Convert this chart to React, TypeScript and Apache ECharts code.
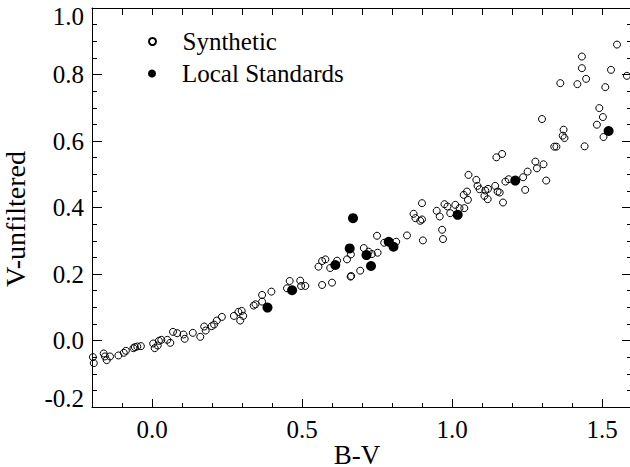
import React, { useEffect, useRef } from "react";
import * as echarts from "echarts";

// B-V colour against V-unfiltered offset
const synthetic: [number, number][] = [
  [-0.197, -0.05], [-0.194, -0.068], [-0.161, -0.039], [-0.157, -0.048], [-0.151, -0.059],
  [-0.14, -0.048], [-0.112, -0.045], [-0.094, -0.037], [-0.087, -0.031], [-0.062, -0.023],
  [-0.057, -0.02], [-0.049, -0.018], [-0.037, -0.017], [0.004, -0.009], [0.009, -0.023],
  [0.019, -0.015], [0.023, -0.001], [0.031, 0.002], [0.051, 0.002], [0.061, -0.007],
  [0.07, 0.026], [0.084, 0.022], [0.105, 0.018], [0.109, 0.005], [0.136, 0.023],
  [0.161, 0.011], [0.174, 0.042], [0.179, 0.03], [0.199, 0.043], [0.207, 0.048],
  [0.216, 0.06], [0.233, 0.071], [0.273, 0.074], [0.288, 0.086], [0.294, 0.06],
  [0.299, 0.089], [0.304, 0.074], [0.339, 0.105], [0.345, 0.109], [0.367, 0.117],
  [0.367, 0.137], [0.398, 0.147], [0.45, 0.157], [0.459, 0.179], [0.494, 0.18],
  [0.497, 0.164], [0.511, 0.164], [0.567, 0.167], [0.6, 0.174], [0.555, 0.222],
  [0.567, 0.239], [0.578, 0.244], [0.594, 0.218], [0.617, 0.24], [0.65, 0.244],
  [0.663, 0.259], [0.662, 0.192], [0.664, 0.194], [0.694, 0.21], [0.706, 0.278],
  [0.722, 0.267], [0.733, 0.26], [0.752, 0.264], [0.75, 0.315], [0.774, 0.294],
  [0.814, 0.297], [0.85, 0.316], [0.872, 0.381], [0.878, 0.368], [0.894, 0.36],
  [0.9, 0.364], [0.9, 0.413], [0.903, 0.301], [0.949, 0.39], [0.959, 0.373],
  [0.967, 0.333], [0.97, 0.305], [0.975, 0.41], [0.985, 0.403], [0.994, 0.383],
  [1.011, 0.408], [1.025, 0.398], [1.039, 0.438], [1.05, 0.448], [1.041, 0.398],
  [1.053, 0.423], [1.055, 0.498], [1.081, 0.483], [1.085, 0.465], [1.092, 0.455],
  [1.108, 0.435], [1.119, 0.425], [1.111, 0.451], [1.12, 0.456], [1.148, 0.551],
  [1.167, 0.561], [1.144, 0.465], [1.152, 0.448], [1.159, 0.445], [1.17, 0.415],
  [1.178, 0.478], [1.189, 0.485], [1.237, 0.491], [1.244, 0.453], [1.252, 0.508],
  [1.278, 0.538], [1.283, 0.518], [1.305, 0.53], [1.314, 0.481], [1.3, 0.666],
  [1.341, 0.583], [1.348, 0.583], [1.372, 0.634], [1.369, 0.616], [1.375, 0.609],
  [1.361, 0.774], [1.418, 0.771], [1.447, 0.787], [1.433, 0.854], [1.433, 0.819],
  [1.442, 0.584], [1.483, 0.649], [1.491, 0.699], [1.503, 0.672], [1.505, 0.612],
  [1.511, 0.762], [1.53, 0.814], [1.55, 0.89], [1.583, 0.796],
];

const localStandards: [number, number][] = [
  [0.385, 0.099], [0.467, 0.151], [0.611, 0.227], [0.659, 0.277], [0.67, 0.368],
  [0.715, 0.257], [0.73, 0.224], [0.789, 0.297], [0.805, 0.282], [1.019, 0.378],
  [1.211, 0.481], [1.522, 0.63],
];

const xLabelTicks = [0, 0.5, 1.0, 1.5];
const xRange: [number, number] = [-0.2, 1.6];
const yRange: [number, number] = [-0.2, 1.0];

const FONT = "'Liberation Serif', 'Times New Roman', serif";
const INK = "#000";

export default function App() {
  const ref = useRef<HTMLDivElement>(null);

  useEffect(() => {
    const chart = echarts.init(ref.current!, null, { renderer: "svg" });
    const text = { fontFamily: FONT, fontSize: 25, color: INK };
    const title = { fontFamily: FONT, fontSize: 28, color: INK };
    const line = { color: INK, width: 1 };
    const legendText = { ...text, padding: [0, 0, 0, 21] };

    chart.setOption({
      animation: false,
      backgroundColor: "#fff",
      textStyle: { fontFamily: FONT },
      grid: { left: 92, top: 8, width: 540, height: 399, outerBoundsMode: "none", containLabel: false },
      legend: [
        {
          data: ["Synthetic"],
          left: 148,
          top: 29,
          padding: 0,
          itemWidth: 8,
          itemHeight: 7,
          selectedMode: false,
          textStyle: legendText,
        },
        {
          data: ["Local Standards"],
          left: 148,
          top: 61,
          padding: 0,
          itemWidth: 8,
          itemHeight: 9,
          selectedMode: false,
          textStyle: legendText,
        },
      ],
      xAxis: [
        {
          type: "value",
          position: "bottom",
          min: xRange[0],
          max: xRange[1],
          name: "B-V",
          nameLocation: "middle",
          nameGap: 38,
          nameMoveOverlap: false,
          nameTextStyle: { ...title, fontSize: 27, lineHeight: 20, padding: [0, 10, 0, 0] },
          axisLine: { show: true, onZero: false, lineStyle: line },
          axisTick: { inside: true, length: 8, customValues: xLabelTicks, lineStyle: line },
          axisLabel: {
            customValues: xLabelTicks,
            formatter: (v: number) => v.toFixed(1),
            margin: 10,
            ...text,
          },
          splitLine: { show: false },
        },
        {
          type: "value",
          position: "top",
          min: xRange[0],
          max: xRange[1],
          interval: 0.1,
          axisLine: { show: true, onZero: false, lineStyle: line },
          axisTick: { inside: true, length: 7, lineStyle: line },
          axisLabel: { show: false },
          splitLine: { show: false },
        },
        {
          type: "value",
          position: "bottom",
          min: xRange[0],
          max: xRange[1],
          interval: 0.1,
          axisLine: { show: false, onZero: false },
          axisTick: { inside: true, length: 4, lineStyle: line },
          axisLabel: { show: false },
          splitLine: { show: false },
        },
      ],
      yAxis: [
        {
          type: "value",
          position: "left",
          min: yRange[0],
          max: yRange[1],
          interval: 0.2,
          name: "V-unfiltered",
          nameLocation: "middle",
          nameGap: 63,
          nameTextStyle: { ...title, padding: [0, 23, 0, 0] },
          axisLine: { show: true, onZero: false, lineStyle: line },
          axisTick: { inside: true, length: 10, lineStyle: line },
          minorTick: { show: true, splitNumber: 4, length: 5, lineStyle: line },
          axisLabel: {
            formatter: (v: number) => v.toFixed(1),
            margin: 8,
            lineHeight: 17,
            verticalAlignMaxLabel: "top",
            verticalAlignMinLabel: "bottom",
            ...text,
          },
          splitLine: { show: false },
          minorSplitLine: { show: false },
        },
        {
          type: "value",
          position: "right",
          min: yRange[0],
          max: yRange[1],
          interval: 0.2,
          axisLine: { show: true, onZero: false, lineStyle: line },
          axisTick: { inside: true, length: 10, lineStyle: line },
          minorTick: { show: true, splitNumber: 4, length: 5, lineStyle: line },
          axisLabel: { show: false },
          splitLine: { show: false },
          minorSplitLine: { show: false },
        },
      ],
      series: [
        {
          name: "Synthetic",
          type: "scatter",
          xAxisIndex: 0,
          yAxisIndex: 0,
          symbol: "circle",
          symbolSize: 7,
          itemStyle: { color: "rgba(255,255,255,0)", borderColor: INK, borderWidth: 1, opacity: 1 },
          emphasis: { disabled: true },
          data: synthetic,
        },
        {
          name: "Local Standards",
          type: "scatter",
          xAxisIndex: 0,
          yAxisIndex: 0,
          symbol: "circle",
          symbolSize: 10,
          itemStyle: { color: INK, opacity: 1 },
          emphasis: { disabled: true },
          data: localStandards,
        },
      ],
    });

    return () => chart.dispose();
  }, []);

  return (
    <div
      ref={ref}
      style={{ position: "absolute", left: 0, top: 0, width: 630, height: 467, background: "#fff" }}
    />
  );
}
